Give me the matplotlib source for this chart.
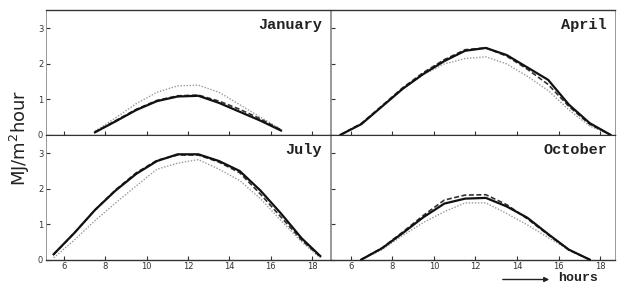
import matplotlib
matplotlib.use("Agg")
import matplotlib.pyplot as plt

months = ["January", "April", "July", "October"]

jan_hours = [7.5, 8.5, 9.5, 10.5, 11.5, 12.5, 13.5, 14.5, 15.5, 16.5]
jan_solid = [0.07, 0.38, 0.70, 0.95, 1.08, 1.10, 0.90, 0.65, 0.40, 0.12]
jan_dashed = [0.08, 0.40, 0.72, 0.97, 1.10, 1.12, 0.95, 0.72, 0.45, 0.14]
jan_dotted = [0.10, 0.48, 0.88, 1.20, 1.38, 1.40, 1.20, 0.85, 0.50, 0.15]

apr_hours = [5.5, 6.5, 7.5, 8.5, 9.5, 10.5, 11.5, 12.5, 13.5, 14.5, 15.5, 16.5, 17.5, 18.5]
apr_solid = [0.0, 0.30, 0.80, 1.30, 1.72, 2.08, 2.37, 2.45, 2.25, 1.90, 1.55, 0.85, 0.33, 0.0]
apr_dashed = [0.0, 0.32, 0.82, 1.33, 1.76, 2.12, 2.40, 2.45, 2.22, 1.85, 1.42, 0.80, 0.30, 0.0]
apr_dotted = [0.0, 0.30, 0.80, 1.30, 1.70, 2.00, 2.15, 2.20, 2.00, 1.65, 1.25, 0.70, 0.25, 0.0]

jul_hours = [5.5, 6.5, 7.5, 8.5, 9.5, 10.5, 11.5, 12.5, 13.5, 14.5, 15.5, 16.5, 17.5, 18.4]
jul_solid = [0.15, 0.75, 1.40, 1.95, 2.42, 2.78, 2.97, 2.97, 2.78, 2.50, 1.95, 1.30, 0.60, 0.10]
jul_dashed = [0.15, 0.75, 1.40, 1.97, 2.45, 2.80, 2.95, 2.95, 2.75, 2.45, 1.85, 1.20, 0.55, 0.08]
jul_dotted = [0.05, 0.55, 1.10, 1.60, 2.08, 2.55, 2.72, 2.82, 2.55, 2.23, 1.72, 1.10, 0.50, 0.05]

oct_hours = [6.5, 7.5, 8.5, 9.5, 10.5, 11.5, 12.5, 13.5, 14.5, 15.5, 16.5, 17.5]
oct_solid = [0.0, 0.32, 0.75, 1.20, 1.58, 1.72, 1.74, 1.50, 1.18, 0.72, 0.28, 0.0]
oct_dashed = [0.0, 0.33, 0.78, 1.25, 1.68, 1.82, 1.83, 1.55, 1.15, 0.70, 0.27, 0.0]
oct_dotted = [0.0, 0.28, 0.68, 1.05, 1.35, 1.60, 1.60, 1.30, 0.98, 0.62, 0.28, 0.0]

panels = [
    (jan_hours, jan_solid, jan_dashed, jan_dotted),
    (apr_hours, apr_solid, apr_dashed, apr_dotted),
    (jul_hours, jul_solid, jul_dashed, jul_dotted),
    (oct_hours, oct_solid, oct_dashed, oct_dotted),
]

x_ticks = [6, 8, 10, 12, 14, 16, 18]
y_ticks = [0, 1, 2, 3]

fig = plt.figure(figsize=(6.21, 2.84), dpi=100)
W, H = 621, 284
rects = [
    (46, 10, 330, 134.8),
    (331, 10, 615, 134.8),
    (46, 134.8, 330, 259.6),
    (331, 134.8, 615, 259.6),
]
xlims = [(5.13, 18.87), (5.04, 18.72), (5.13, 18.87), (5.04, 18.72)]

for i, (rect, name, data) in enumerate(zip(rects, months, panels)):
    x0, y0, x1, y1 = rect
    ax = fig.add_axes([x0 / W, 1 - y1 / H, (x1 - x0) / W, (y1 - y0) / H])
    hrs, s, d, t = data
    ax.plot(hrs, t, color="#9a9a9a", lw=1.0, ls=(0, (1, 1.2)), clip_on=False, zorder=2)
    ax.plot(hrs, d, color="#333333", lw=1.2, ls=(0, (3, 1.5)), clip_on=False, zorder=3)
    ax.plot(hrs, s, color="#111111", lw=1.6, ls="-", clip_on=False, zorder=4)
    ax.set_xlim(*xlims[i])
    ax.set_ylim(0, 3.52)
    ax.set_xticks(x_ticks)
    ax.set_yticks(y_ticks)
    ax.tick_params(direction="in", length=3, width=0.8, labelsize=6, pad=2, colors="#333333")
    if i % 2 == 1:
        ax.tick_params(axis="y", labelleft=False)
    if i < 2:
        ax.tick_params(axis="x", labelbottom=False)
    for side in ["left", "right"]:
        ax.spines[side].set_linewidth(0.6)
        ax.spines[side].set_color("#888888")
    ax.spines["top"].set_linewidth(1.0 if i < 2 else 0.8)
    ax.spines["bottom"].set_linewidth(1.0)
    ax.spines["top"].set_color("#333333")
    ax.spines["bottom"].set_color("#333333")
    ax.text(0.972, 0.88, name, transform=ax.transAxes, ha="right", va="center",
            fontsize=11, fontweight="bold", family="Liberation Mono", color="#222222")

fig.text(20 / W, 1 - 138 / H, "MJ/m$^2$hour", rotation=90, ha="center", va="center",
         fontsize=13, color="#222222")
fig.text(598 / W, 1 - 284 / H, "hours", ha="right", va="bottom", fontsize=9.5,
         family="Liberation Mono", fontweight="bold", color="#222222")
fig.add_artist(matplotlib.patches.FancyArrowPatch(
    (500 / W, 1 - 279.5 / H), (552 / W, 1 - 279.5 / H), transform=fig.transFigure,
    arrowstyle="-|>", mutation_scale=7, lw=1.0, color="#222222"))

fig.savefig("out.png", dpi=100)
